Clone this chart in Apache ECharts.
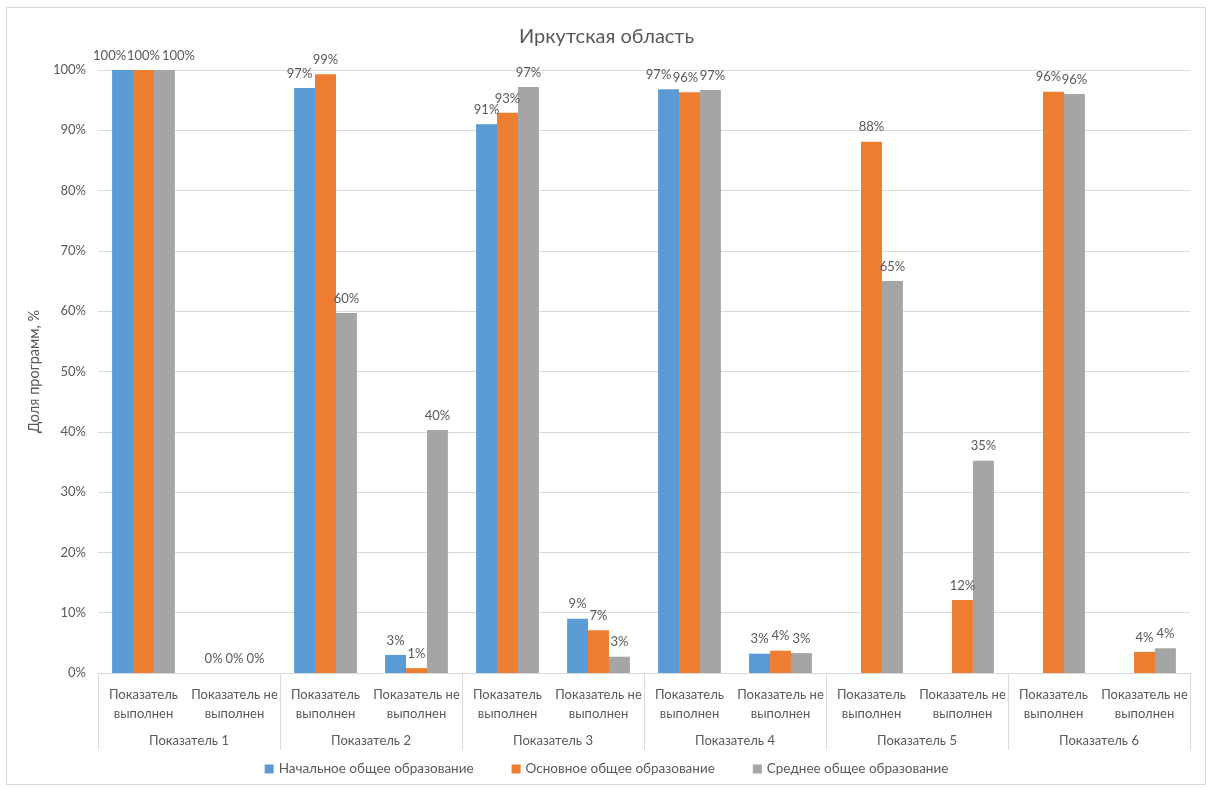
<!DOCTYPE html>
<html>
<head>
<meta charset="utf-8">
<script src="https://cdn.jsdelivr.net/npm/echarts@6/dist/echarts.min.js"></script>
<style>
html,body{margin:0;padding:0;background:#fff;}
#c{width:1213px;height:789px;}
</style>
</head>
<body>
<div id="c"></div>
<script>
var groups = ['Показатель 1','Показатель 2','Показатель 3','Показатель 4','Показатель 5','Показатель 6'];
var subcats = ['Показатель\nвыполнен','Показатель не\nвыполнен'];
var categories = [];
groups.forEach(function(){ subcats.forEach(function(s){ categories.push(s); }); });
var seriesNames = ['Начальное общее образование','Основное общее образование','Среднее общее образование'];
var primary   = [100, 0, 97.0, 3.0, 91.0, 9.0, 96.8, 3.2, null, null, null, null];
var basic     = [100, 0, 99.3, 0.8, 92.9, 7.1, 96.3, 3.7, 88.1, 12.1, 96.4, 3.5];
var secondary = [100, 0, 59.7, 40.3, 97.2, 2.7, 96.7, 3.3, 65.0, 35.2, 96.0, 4.1];
var yTicks = [0,10,20,30,40,50,60,70,80,90,100];
var colors = ['#5B9BD5','#ED7D31','#A5A5A5'];

var font = 'Lato, "Noto Sans", sans-serif';
var txt = '#595959';

function mk(name, data, color){
  return {
    name: name, type: 'bar', data: data, xAxisIndex: 0,
    barGap: '0%', barCategoryGap: '31%',
    itemStyle: {color: color},
    label: {show: true, position: 'top', distance: 8, color: txt, fontSize: 13, fontFamily: font,
      formatter: function(p){ return p.value == null ? '' : Math.round(p.value) + '%'; }},
    labelLayout: function(p){
      // spread overlapping labels of crowded clusters apart, as the original does
      if (p.dataIndex === 0) return {dx: [-13, 0, 14][p.seriesIndex]};
      if (p.dataIndex === 6) return {dx: [-10, -4, 2][p.seriesIndex]};
      if (p.dataIndex === 10) return {dx: [0, -5, 0][p.seriesIndex]};
      if (p.dataIndex === 2) return {dx: [-5, 0, 0][p.seriesIndex]};
      return {};
    },
    emphasis: {disabled: true}
  };
}

var chart = echarts.init(document.getElementById('c'));
chart.setOption({
  animation: false,
  backgroundColor: '#fff',
  title: {text: 'Иркутская область', left: 'center', top: 22,
    textStyle: {color: txt, fontSize: 20, fontWeight: 'normal', fontFamily: font}},
  graphic: [{type: 'rect', shape: {x: 6.5, y: 7.5, width: 1199, height: 777},
    style: {fill: 'none', stroke: '#d9d9d9', lineWidth: 1}, silent: true}],
  legend: {bottom: 8, left: 'center', itemWidth: 9, itemHeight: 9, itemGap: 38,
    icon: 'rect', textStyle: {color: txt, fontSize: 13.5, fontFamily: font},
    data: seriesNames},
  grid: {left: 98, right: 23, top: 70, bottom: 116, containLabel: false},
  xAxis: [
    {type: 'category', data: categories, position: 'bottom',
     axisLine: {show: true, lineStyle: {color: '#d9d9d9'}},
     axisTick: {show: false},
     axisLabel: {interval: 0, color: txt, fontSize: 13, fontFamily: font, margin: 12, lineHeight: 19}},
    {type: 'category', data: groups, position: 'bottom',
     axisLine: {show: false},
     axisTick: {show: true, length: 77, interval: 0, lineStyle: {color: '#d9d9d9'}},
     axisLabel: {interval: 0, color: txt, fontSize: 13, fontFamily: font, margin: 61},
     splitLine: {show: false}}
  ],
  yAxis: {type: 'value', min: 0, max: 100, interval: 10,
    name: 'Доля программ, %', nameLocation: 'middle', nameGap: 47, nameRotate: 90,
    nameTextStyle: {color: txt, fontSize: 14.5, fontFamily: font},
    axisLine: {show: false}, axisTick: {show: false},
    axisLabel: {color: txt, fontSize: 13, fontFamily: font, margin: 12,
      formatter: function(v){ return yTicks.indexOf(v) >= 0 ? v + '%' : ''; }},
    splitLine: {lineStyle: {color: '#d9d9d9'}}},
  series: [mk(seriesNames[0], primary, colors[0]), mk(seriesNames[1], basic, colors[1]), mk(seriesNames[2], secondary, colors[2])]
});
</script>
</body>
</html>
